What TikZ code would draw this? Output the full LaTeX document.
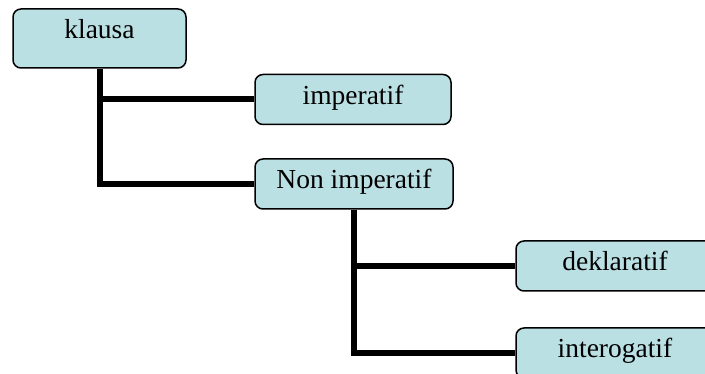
\documentclass[tikz,border=0pt]{standalone}
\usepackage{fontspec}
\setmainfont{Liberation Serif}
\definecolor{boxfill}{RGB}{187,224,228}

\begin{document}
\begin{tikzpicture}[x=1pt, y=-1pt,
  kotak/.style={draw=black, line width=1.5pt, fill=boxfill, rounded corners=8pt,
    inner sep=0pt, minimum height=50pt, text height=22pt, text depth=12pt,
    font=\fontsize{27.5}{32}\selectfont},
  garis/.style={line width=6pt}]
\useasboundingbox (0,0) rectangle (705,374);
\clip (0,0) rectangle (705,374);
\node[kotak, minimum width=173pt, minimum height=59pt, text depth=21pt] (klausa) at (99.5,38.5) {klausa};
\node[kotak, minimum width=196pt] (imperatif) at (353,99.5) {imperatif};
\node[kotak, minimum width=198pt] (nonimp) at (354,184) {Non imperatif};
\node[kotak, minimum width=198pt] (deklaratif) at (615,266) {deklaratif};
\node[kotak, minimum width=198pt] (interogatif) at (615,353) {interogatif};
\draw[garis] (klausa.south) |- (imperatif.west);
\draw[garis] (klausa.south) |- (nonimp.west);
\draw[garis] (nonimp.south) |- (deklaratif.west);
\draw[garis] (nonimp.south) |- (interogatif.west);
\end{tikzpicture}
\end{document}
